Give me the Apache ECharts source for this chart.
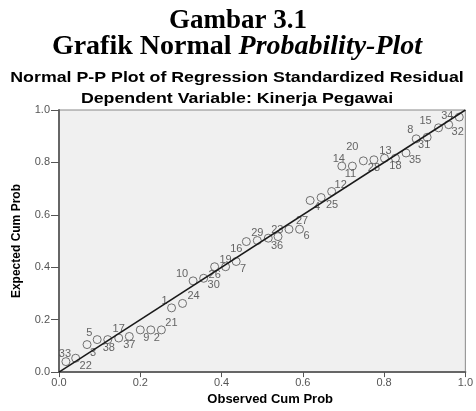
<!DOCTYPE html>
<html>
<head>
<meta charset="utf-8">
<title>Normal P-P Plot</title>
<script src="https://cdn.jsdelivr.net/npm/echarts@6/dist/echarts.min.js"></script>
<style>
  html, body { margin: 0; padding: 0; background: #fff; }
  #main { width: 476px; height: 411px; }
</style>
</head>
<body>
<div id="main"></div>
<script>
// case numbers, in order of observed cum prob
var caseLabels = ['33', '22', '3', '5', '38', '17', '37', '9', '2', '21',
  '1', '24', '10', '30', '26', '19', '7', '16', '29', '23',
  '36', '27', '6', '4', '25', '12', '14', '11', '20', '28',
  '13', '18', '35', '8', '31', '15', '32', '34']
var observedProb = [0.017, 0.041, 0.069, 0.094, 0.120, 0.147, 0.173, 0.200, 0.226, 0.252,
  0.277, 0.304, 0.330, 0.356, 0.383, 0.410, 0.436, 0.461, 0.488, 0.515,
  0.539, 0.566, 0.592, 0.618, 0.645, 0.671, 0.696, 0.722, 0.749, 0.775,
  0.801, 0.828, 0.854, 0.879, 0.906, 0.934, 0.959, 0.985]
var expectedProb = [0.040, 0.053, 0.105, 0.124, 0.124, 0.130, 0.136, 0.161, 0.161, 0.161,
  0.245, 0.262, 0.348, 0.358, 0.402, 0.402, 0.422, 0.498, 0.502, 0.511,
  0.517, 0.545, 0.545, 0.655, 0.666, 0.689, 0.786, 0.786, 0.806, 0.810,
  0.816, 0.816, 0.836, 0.890, 0.896, 0.932, 0.944, 0.973]
var refLine = [[0, 0], [1, 1]]
var tickValues = [0, 0.2, 0.4, 0.6, 0.8, 1.0]

// where each case label sits next to its circle (px)
var labelOffset = {
  '33': [-1, -8], '22': [10, 8], '3': [6, 8], '5': [-8, -7], '38': [1, 8],
  '17': [0, -9], '37': [0, 9], '9': [6, 8], '2': [6, 8], '21': [10, -7],
  '1': [-7, -7], '24': [11, -7], '10': [-11, -7], '30': [10, 7], '26': [0, 8],
  '19': [0, -7], '7': [7, 7], '16': [-10, 7], '29': [0, -8], '23': [9, -8],
  '36': [-1, 9], '27': [13, -8], '6': [7, 7], '4': [7, 7], '25': [11, 7],
  '12': [9, -7], '14': [-3, -7], '11': [-2, 8], '20': [-11, -14], '28': [0, 8],
  '13': [1, -7], '18': [0, 8], '35': [9, 7], '8': [-6, -9], '31': [-3, 8],
  '15': [-13, -7], '32': [9, 7], '34': [-12, -1]
}

var points = caseLabels.map(function (c, i) {
  return {
    name: c,
    value: [observedProb[i], expectedProb[i]],
    label: { offset: labelOffset[c] }
  }
})

var sans = '"Liberation Sans", Arial, sans-serif'
var serif = '"Liberation Serif", "Times New Roman", serif'

function axis(name) {
  return {
    type: 'value',
    min: 0,
    max: 1,
    interval: 0.2,
    name: name,
    nameLocation: 'middle',
    nameTextStyle: { fontFamily: sans, fontWeight: 'bold', fontSize: 13, color: '#000' },
    axisLine: { show: true, lineStyle: { color: '#666', width: 2 } },
    axisTick: { show: true, inside: false, lineStyle: { color: '#555' } },
    axisLabel: {
      fontFamily: sans, fontSize: 11, color: '#555',
      formatter: function (v) { return v.toFixed(1) }
    },
    splitLine: { show: false }
  }
}

var xAxis = axis('Observed Cum Prob')
xAxis.nameGap = 19
xAxis.nameTextStyle.padding = [0, 0, 0, 16]
xAxis.axisTick.length = 5
xAxis.axisLabel.margin = 5

var yAxis = axis('Expected Cum Prob')
yAxis.nameGap = 36
yAxis.nameTextStyle.fontSize = 12
yAxis.axisTick.length = 8
yAxis.axisLabel.margin = 9

var myChart = echarts.init(document.getElementById('main'))
var option = {
  animation: false,
  backgroundColor: '#fff',
  grid: {
    left: 59, right: 7, top: 110, bottom: 34,
    show: true, backgroundColor: '#f0f0f0', borderColor: '#888', borderWidth: 1
  },
  graphic: [
    {
      type: 'text', x: 238, y: 21,
      style: { text: 'Gambar 3.1', font: 'bold 27px ' + serif, fill: '#000', align: 'center', verticalAlign: 'middle' }
    },
    {
      type: 'text', x: 237, y: 47,
      style: {
        text: '{a|Grafik Normal }{b|Probability-Plot}',
        align: 'center', verticalAlign: 'middle', fill: '#000',
        rich: {
          a: { font: 'bold 28px ' + serif, fill: '#000' },
          b: { font: 'italic bold 28px ' + serif, fill: '#000' }
        }
      }
    },
    {
      type: 'text', x: 237, y: 78, scaleX: 1.27,
      style: { text: 'Normal P-P Plot of Regression Standardized Residual', font: 'bold 14px ' + sans, fill: '#000', align: 'center', verticalAlign: 'middle' }
    },
    {
      type: 'text', x: 237, y: 99, scaleX: 1.27,
      style: { text: 'Dependent Variable: Kinerja Pegawai', font: 'bold 14px ' + sans, fill: '#000', align: 'center', verticalAlign: 'middle' }
    }
  ],
  xAxis: xAxis,
  yAxis: yAxis,
  series: [
    {
      type: 'line',
      data: refLine,
      symbol: 'none',
      lineStyle: { color: '#1a1a1a', width: 1.5 },
      z: 3
    },
    {
      type: 'scatter',
      data: points,
      symbol: 'circle',
      symbolSize: 8,
      itemStyle: { color: 'rgba(0,0,0,0)', borderColor: '#505050', borderWidth: 1 },
      label: {
        show: true,
        position: 'inside',
        formatter: '{b}',
        fontFamily: sans,
        fontSize: 11,
        color: '#404040'
      },
      z: 2
    }
  ]
}
myChart.setOption(option)
</script>
</body>
</html>
